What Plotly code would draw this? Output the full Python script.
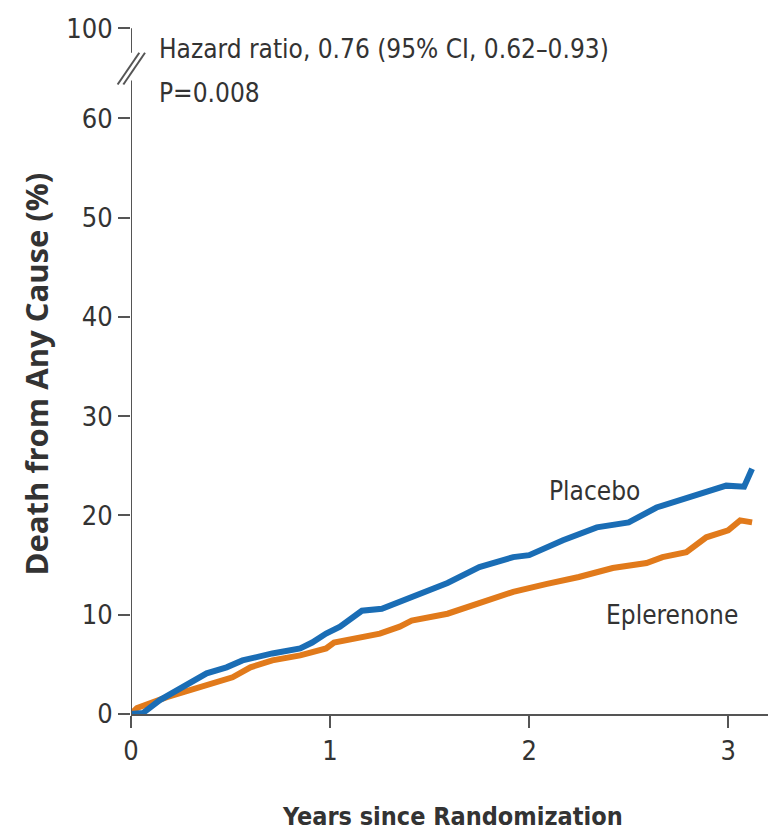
import plotly.graph_objects as go

# ---- data ----
years_placebo = [0.0, 0.06, 0.145, 0.26, 0.38, 0.48, 0.56, 0.71, 0.85, 0.91, 0.98, 1.05, 1.16, 1.26,
                 1.35, 1.41, 1.50, 1.59, 1.75, 1.92, 2.0, 2.17, 2.34, 2.5, 2.64, 2.75, 2.89, 2.99, 3.08, 3.10, 3.12]
death_placebo = [0.0, 0.1, 1.4, 2.7, 4.1, 4.7, 5.4, 6.1, 6.6, 7.2, 8.1, 8.8, 10.4, 10.6,
                 11.3, 11.8, 12.5, 13.2, 14.8, 15.8, 16.0, 17.5, 18.8, 19.3, 20.8, 21.5, 22.3, 23.0, 22.9, 23.7, 24.7]

years_eplerenone = [0.0, 0.03, 0.18, 0.35, 0.51, 0.60, 0.71, 0.85, 0.98, 1.02, 1.15, 1.25, 1.35, 1.41,
                    1.59, 1.75, 1.92, 2.09, 2.25, 2.42, 2.59, 2.67, 2.79, 2.89, 3.0, 3.06, 3.12]
death_eplerenone = [0.0, 0.6, 1.7, 2.7, 3.7, 4.7, 5.4, 5.9, 6.6, 7.2, 7.7, 8.1, 8.8, 9.4,
                    10.1, 11.2, 12.3, 13.1, 13.8, 14.7, 15.2, 15.8, 16.3, 17.8, 18.5, 19.5, 19.3]

y_tick_vals = [0, 10, 20, 30, 40, 50, 60]
y_tick_text = ["0", "10", "20", "30", "40", "50", "60"]
break_tick_val = 69.06   # position standing in for 100 above the axis break
break_tick_text = "100"
x_tick_vals = [0, 1, 2, 3]

BLUE = "#1a6db5"
ORANGE = "#e17a1b"
AXIS = "#555555"
TEXT = "#333333"
FONT = "Liberation Sans Narrow, DejaVu Sans Condensed, sans-serif"

fig = go.Figure()
fig.add_trace(go.Scatter(x=years_eplerenone, y=death_eplerenone, mode="lines",
                         line=dict(color=ORANGE, width=6), showlegend=False))
fig.add_trace(go.Scatter(x=years_placebo, y=death_placebo, mode="lines",
                         line=dict(color=BLUE, width=6), showlegend=False))

fig.update_layout(
    width=769, height=831,
    margin=dict(l=131, r=1, t=20, b=117),
    paper_bgcolor="white", plot_bgcolor="white",
    font=dict(family=FONT, color=TEXT, size=27),
    xaxis=dict(range=[0, 3.2], tickvals=x_tick_vals, ticks="outside", ticklen=12, tickwidth=2,
               tickcolor=AXIS, showline=True, linecolor=AXIS, linewidth=2, showgrid=False,
               zeroline=False, tickfont=dict(size=27, family=FONT, color=TEXT), fixedrange=True),
    yaxis=dict(range=[0, 69.9], tickvals=y_tick_vals + [break_tick_val],
               ticktext=y_tick_text + [break_tick_text], ticks="outside", ticklen=12, tickwidth=2,
               tickcolor=AXIS, showline=False, showgrid=False, zeroline=False,
               tickfont=dict(size=27, family=FONT, color=TEXT)),
)

# broken y axis
fig.add_shape(type="line", xref="x", yref="y", x0=0, x1=0, y0=0, y1=63.8,
              line=dict(color=AXIS, width=2))
fig.add_shape(type="line", xref="x", yref="y", x0=0, x1=0, y0=66.6, y1=break_tick_val,
              line=dict(color=AXIS, width=2))
fig.add_shape(type="line", xref="paper", yref="y", x0=-0.021, x1=0.013, y0=63.4, y1=66.6,
              line=dict(color=AXIS, width=2))
fig.add_shape(type="line", xref="paper", yref="y", x0=-0.012, x1=0.022, y0=63.4, y1=66.6,
              line=dict(color=AXIS, width=2))

fig.add_annotation(x=0.13, y=67.0, xref="x", yref="y", xanchor="left", yanchor="middle",
                   text="Hazard ratio, 0.76 (95% CI, 0.62\u20130.93)", showarrow=False,
                   font=dict(size=26, family=FONT, color=TEXT))
fig.add_annotation(x=0.13, y=62.5, xref="x", yref="y", xanchor="left", yanchor="middle",
                   text="P=0.008", showarrow=False, font=dict(size=26, family=FONT, color=TEXT))
fig.add_annotation(x=2.33, y=22.5, xref="x", yref="y", xanchor="center", yanchor="middle",
                   text="Placebo", showarrow=False,
                   font=dict(size=26, family=FONT, color=TEXT))
fig.add_annotation(x=2.72, y=10.0, xref="x", yref="y", xanchor="center", yanchor="middle",
                   text="Eplerenone", showarrow=False, font=dict(size=26, family=FONT, color=TEXT))

fig.add_annotation(x=0.505, y=-0.148, xref="paper", yref="paper", xanchor="center", yanchor="middle",
                   text="<b>Years since Randomization</b>", showarrow=False,
                   font=dict(size=25, family=FONT, color=TEXT))
fig.add_annotation(x=-0.15, y=0.49, xref="paper", yref="paper", xanchor="center", yanchor="middle",
                   text="<b>Death from Any Cause (%)</b>", showarrow=False, textangle=-90,
                   font=dict(size=31, family="Open Sans, sans-serif", color=TEXT))

fig.write_html("out.html")
